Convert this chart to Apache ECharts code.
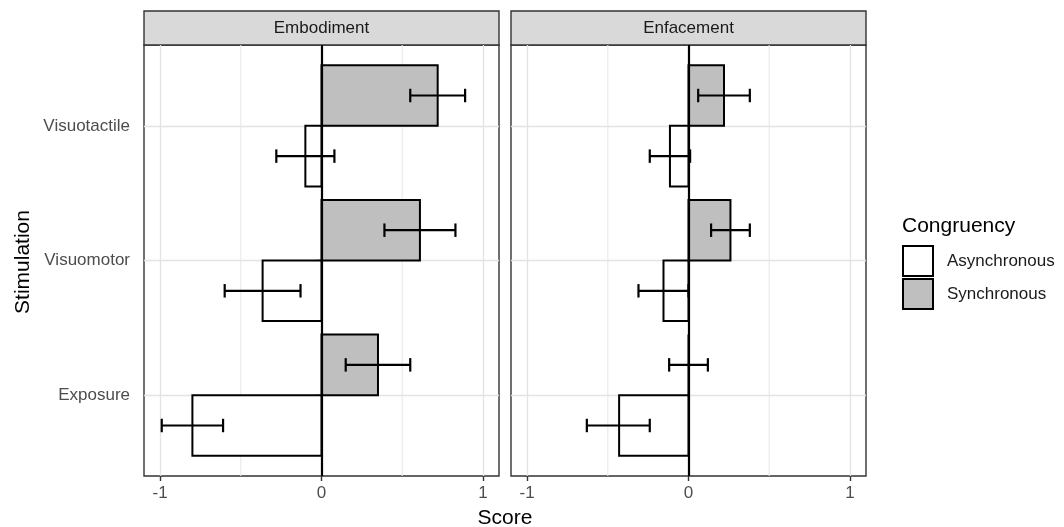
<!DOCTYPE html>
<html>
<head>
<meta charset="utf-8">
<script src="https://cdn.jsdelivr.net/npm/echarts@6/dist/echarts.min.js"></script>
<style>
html,body{margin:0;padding:0;background:#fff;}
#chart{width:1064px;height:527px;}
</style>
</head>
<body>
<div id="chart"></div>
<script>
// ---- data ----
const categories = ['Exposure', 'Visuomotor', 'Visuotactile'];
const panels = ['Embodiment', 'Enfacement'];
const groups = ['Asynchronous', 'Synchronous'];
const xTicks = [-1, 0, 1];
const xMinor = [-0.5, 0.5];

const embAsync   = [-0.80, -0.365, -0.10];
const embAsyncLo = [-0.99, -0.60, -0.28];
const embAsyncHi = [-0.61, -0.13, 0.08];
const embSync    = [0.35, 0.61, 0.72];
const embSyncLo  = [0.15, 0.39, 0.55];
const embSyncHi  = [0.55, 0.83, 0.89];

const enfAsync   = [-0.43, -0.155, -0.115];
const enfAsyncLo = [-0.63, -0.31, -0.24];
const enfAsyncHi = [-0.24, 0.00, 0.01];
const enfSync    = [0.00, 0.26, 0.22];
const enfSyncLo  = [-0.12, 0.14, 0.06];
const enfSyncHi  = [0.12, 0.38, 0.38];

// ---- build ----
const FONT = 'Liberation Sans, Arial, sans-serif';
const DODGE = 0.45;   // bar thickness in category units
const CAP = 0.05;     // half height of error bar caps

function rows(vals, lo, hi) {
  return vals.map((v, i) => [v, i + 1, lo[i], hi[i]]);
}

function barRender(side, fill) {
  return function (params, api) {
    const v = api.value(0), c = api.value(1);
    const p0 = api.coord([0, c]);
    const p1 = api.coord([v, c + side * DODGE]);
    return {
      type: 'rect',
      shape: {
        x: Math.min(p0[0], p1[0]), y: Math.min(p0[1], p1[1]),
        width: Math.abs(p1[0] - p0[0]), height: Math.abs(p1[1] - p0[1])
      },
      style: { fill: fill, stroke: '#000', lineWidth: 2 }
    };
  };
}

function errRender(side) {
  return function (params, api) {
    const c = api.value(1) + side * DODGE / 2;
    const lo = api.value(2), hi = api.value(3);
    const a = api.coord([lo, c]), b = api.coord([hi, c]);
    const a1 = api.coord([lo, c + CAP]), a2 = api.coord([lo, c - CAP]);
    const b1 = api.coord([hi, c + CAP]), b2 = api.coord([hi, c - CAP]);
    const st = { stroke: '#000', lineWidth: 2.2 };
    return {
      type: 'group',
      children: [
        { type: 'line', shape: { x1: a[0], y1: a[1], x2: b[0], y2: b[1] }, style: st },
        { type: 'line', shape: { x1: a1[0], y1: a1[1], x2: a2[0], y2: a2[1] }, style: st },
        { type: 'line', shape: { x1: b1[0], y1: b1[1], x2: b2[0], y2: b2[1] }, style: st }
      ]
    };
  };
}

const panelData = [
  { async: rows(embAsync, embAsyncLo, embAsyncHi), sync: rows(embSync, embSyncLo, embSyncHi) },
  { async: rows(enfAsync, enfAsyncLo, enfAsyncHi), sync: rows(enfSync, enfSyncLo, enfSyncHi) }
];

const gridPos = [
  { left: 144, top: 45, width: 355, height: 431 },
  { left: 511, top: 45, width: 355, height: 431 }
];

const grids = gridPos.map(g => Object.assign({
  show: true, borderColor: '#333', borderWidth: 1.4, backgroundColor: '#fff', containLabel: false
}, g));

const xAxes = gridPos.map((g, i) => ({
  type: 'value', gridIndex: i, min: -1.1, max: 1.1, position: 'bottom',
  axisLine: { show: false },
  axisTick: { show: true, length: 5, customValues: xTicks, lineStyle: { color: '#333', width: 1.4 } },
  axisLabel: { customValues: xTicks, fontSize: 17, fontFamily: FONT, color: '#4d4d4d', margin: 9 },
  splitLine: { show: true, lineStyle: { color: '#e3e3e3', width: 1.3 } }
}));

const yAxes = gridPos.map((g, i) => ({
  type: 'value', gridIndex: i, min: 0.4, max: 3.6,
  axisLine: { show: false },
  axisTick: { show: i === 0, length: 5, customValues: [1, 2, 3], lineStyle: { color: '#333', width: 1.4 } },
  axisLabel: {
    show: i === 0, customValues: [1, 2, 3], fontSize: 17, fontFamily: FONT, color: '#4d4d4d', margin: 14,
    formatter: v => categories[Math.round(v) - 1]
  },
  splitLine: { show: true, lineStyle: { color: '#e3e3e3', width: 1.3 } }
}));

const series = [];
panelData.forEach((pd, i) => {
  // minor vertical grid lines
  series.push({
    type: 'custom', name: 'grid' + i, xAxisIndex: i, yAxisIndex: i, silent: true, z: 1,
    data: xMinor.map(v => [v, 0.4, 3.6]),
    renderItem: function (params, api) {
      const p0 = api.coord([api.value(0), api.value(1)]);
      const p1 = api.coord([api.value(0), api.value(2)]);
      return { type: 'line', shape: { x1: p0[0], y1: p0[1], x2: p1[0], y2: p1[1] },
               style: { stroke: '#e8e8e8', lineWidth: 1.1 } };
    }
  });
  series.push({
    type: 'custom', name: 'Asynchronous', xAxisIndex: i, yAxisIndex: i, z: 3,
    itemStyle: { color: '#ffffff', borderColor: '#000', borderWidth: 2 },
    data: pd.async, renderItem: barRender(-1, '#ffffff')
  });
  series.push({
    type: 'custom', name: 'Synchronous', xAxisIndex: i, yAxisIndex: i, z: 3,
    itemStyle: { color: '#bfbfbf', borderColor: '#000', borderWidth: 2 },
    data: pd.sync, renderItem: barRender(1, '#bfbfbf')
  });
  series.push({
    type: 'custom', name: 'errA' + i, xAxisIndex: i, yAxisIndex: i, z: 5, silent: true,
    data: pd.async, renderItem: errRender(-1)
  });
  series.push({
    type: 'custom', name: 'errS' + i, xAxisIndex: i, yAxisIndex: i, z: 5, silent: true,
    data: pd.sync, renderItem: errRender(1),
    markLine: {
      silent: true, symbol: 'none', label: { show: false },
      lineStyle: { color: '#000', width: 2.2, type: 'solid' },
      data: [{ xAxis: 0 }]
    }
  });
});

const graphics = [];
gridPos.forEach((g, i) => {
  graphics.push({
    type: 'rect', shape: { x: g.left, y: 11, width: g.width, height: 34 },
    style: { fill: '#d9d9d9', stroke: '#333', lineWidth: 1.4 }
  });
  graphics.push({
    type: 'text', x: g.left + g.width / 2, y: 28,
    style: { text: panels[i], font: '17px ' + FONT, fill: '#1a1a1a', align: 'center', verticalAlign: 'middle' }
  });
});
graphics.push({
  type: 'text', x: 23, y: 262, rotation: Math.PI / 2,
  style: { text: 'Stimulation', font: '21px ' + FONT, fill: '#000', align: 'center', verticalAlign: 'middle' }
});
graphics.push({
  type: 'text', x: 505, y: 518,
  style: { text: 'Score', font: '21px ' + FONT, fill: '#000', align: 'center', verticalAlign: 'middle' }
});
graphics.push({
  type: 'text', x: 902, y: 226,
  style: { text: 'Congruency', font: '21px ' + FONT, fill: '#000', align: 'left', verticalAlign: 'middle' }
});

const option = {
  backgroundColor: '#fff',
  animation: false,
  grid: grids,
  xAxis: xAxes,
  yAxis: yAxes,
  legend: {
    orient: 'vertical', left: 902, top: 245, padding: 0,
    itemWidth: 30, itemHeight: 30, itemGap: 1, icon: 'rect',
    selectedMode: false,
    textStyle: { fontSize: 17, fontFamily: FONT, color: '#1a1a1a', padding: [0, 0, 0, 9] },
    data: [
      { name: 'Asynchronous', itemStyle: { color: '#ffffff', borderColor: '#000', borderWidth: 2 } },
      { name: 'Synchronous', itemStyle: { color: '#bfbfbf', borderColor: '#000', borderWidth: 2 } }
    ]
  },
  graphic: graphics,
  series: series
};

const chart = echarts.init(document.getElementById('chart'), null, { renderer: 'canvas' });
chart.setOption(option);
</script>
</body>
</html>
